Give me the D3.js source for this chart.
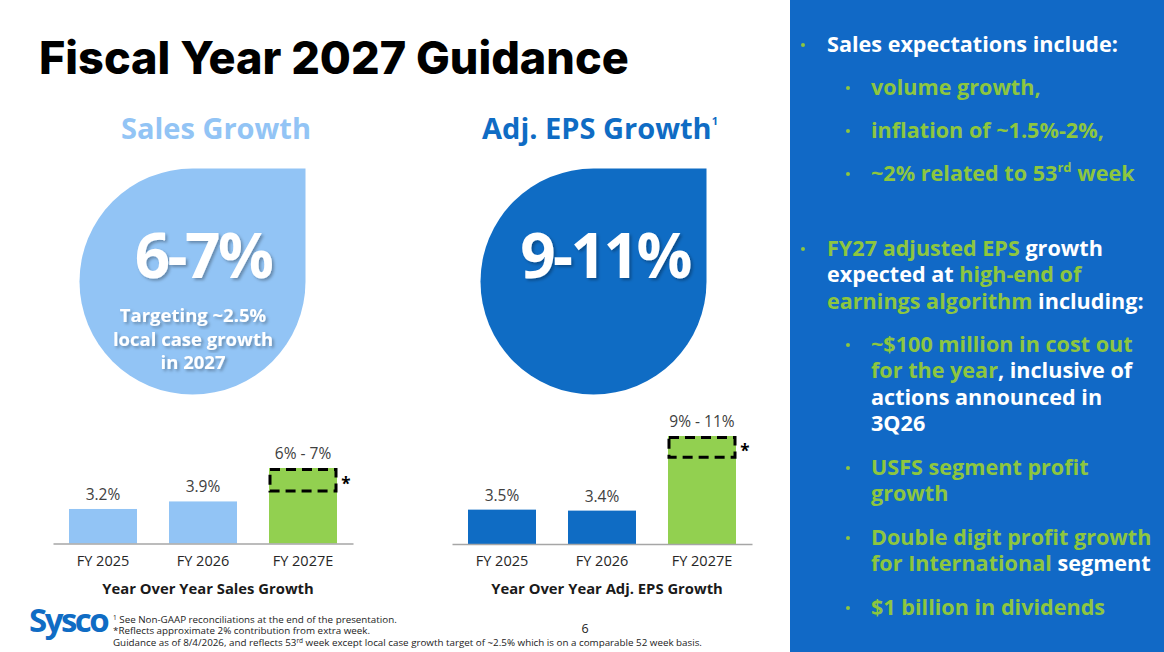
<!DOCTYPE html>
<html lang="en">
<head>
  <meta charset="UTF-8">
  <title>Fiscal Year 2027 Guidance</title>
  <script src="https://d3js.org/d3.v7.min.js"></script>
  <style>
    body { margin: 0; background: #fff; }
    svg text { font-family: "Open Sans", "Noto Sans", sans-serif; }
  </style>
</head>
<body>
  <script>
    const categories = ["FY 2025", "FY 2026", "FY 2027E"];
    const salesGrowth = [3.2, 3.9, 7];
    const salesLabels = ["3.2%", "3.9%", "6% - 7%"];
    const salesExtraWeek = [5, 7];
    const epsGrowth = [3.5, 3.4, 11];
    const epsLabels = ["3.5%", "3.4%", "9% - 11%"];
    const epsExtraWeek = [9, 11];

    const lightBlue = "#92C4F5";
    const darkBlue = "#0F6CC4";
    const barGreen = "#92D050";
    const textGreen = "#8DC63F";

    let svg = d3.select("body")
      .append("svg")
      .attr("width", 1164)
      .attr("height", 652);

    // soft shadow for the big numbers
    const defs = svg.append("defs");
    defs.append("filter")
      .attr("id", "shadow")
      .append("feDropShadow")
      .attr("dx", 2).attr("dy", 2).attr("stdDeviation", 1.5)
      .attr("flood-color", "#000").attr("flood-opacity", 0.3);

    // title
    svg.append("text")
      .attr("x", 39)
      .attr("y", 74)
      .attr("font-size", 45)
      .attr("font-weight", 800)
      .style("font-family", "Inter, sans-serif")
      .attr("letter-spacing", 0)
      .attr("fill", "#000")
      .text("Fiscal Year 2027 Guidance");

    // teardrop: circle with a square top-right corner
    const drop = (cx, cy, r) =>
      `M${cx},${cy - r} L${cx + r},${cy - r} L${cx + r},${cy} A${r},${r} 0 1 1 ${cx},${cy - r} Z`;

    const makePanel = (p) => {
      svg.append("text")
        .attr("x", p.headX).attr("y", 139)
        .attr("text-anchor", "middle")
        .attr("font-size", 29).attr("font-weight", 700)
        .attr("fill", p.headColor)
        .text(p.head)
        .append("tspan")
        .attr("font-size", 11).attr("dy", -14)
        .text(p.sup);

      svg.append("path")
        .attr("d", drop(p.cx, 281.5, 113))
        .attr("fill", p.dropColor);

      svg.append("text")
        .attr("x", p.bigX).attr("y", 278)
        .attr("text-anchor", "middle")
        .attr("font-size", 62).attr("font-weight", 700)
        .attr("letter-spacing", -2.5)
        .attr("fill", "#fff")
        .attr("filter", "url(#shadow)")
        .text(p.big);

      p.sub.forEach((s, i) => {
        svg.append("text")
          .attr("x", 193).attr("y", 322 + i * 23.5)
          .attr("text-anchor", "middle")
          .attr("font-size", 18.5).attr("font-weight", 700)
          .attr("fill", "#fff")
          .attr("filter", "url(#shadow)")
          .text(s);
      });
    };

    makePanel({ head: "Sales Growth", sup: "", headX: 216, headColor: lightBlue, cx: 192.5,
      dropColor: lightBlue, big: "6-7%", bigX: 203,
      sub: ["Targeting ~2.5%", "local case growth", "in 2027"] });
    makePanel({ head: "Adj. EPS Growth", sup: "1", headX: 600, headColor: darkBlue, cx: 593.5,
      dropColor: darkBlue, big: "9-11%", bigX: 605, sub: [] });

    // bar charts
    const makeChart = (c) => {
      const x = d3.scaleBand().domain(categories).range(c.xRange)
        .paddingInner(0.32).paddingOuter(0.16);
      const y = d3.scaleLinear().domain([0, c.yMax]).range([c.base, c.top]);
      const g = svg.append("g");

      g.selectAll("rect.bar")
        .data(c.values)
        .join("rect")
        .attr("class", "bar")
        .attr("x", (d, i) => x(categories[i]))
        .attr("y", d => y(d))
        .attr("width", x.bandwidth())
        .attr("height", d => y(0) - y(d))
        .attr("fill", (d, i) => i === 2 ? barGreen : c.color);

      // dashed box marking the extra week
      const last = categories[2];
      g.append("rect")
        .attr("x", x(last) + 1)
        .attr("y", y(c.extra[1]) + 1.5)
        .attr("width", x.bandwidth() - 2)
        .attr("height", y(c.extra[0]) - y(c.extra[1]))
        .attr("fill", "none")
        .attr("stroke", "#000")
        .attr("stroke-width", 3)
        .attr("stroke-dasharray", "10,6");

      g.append("text")
        .attr("x", x(last) + x.bandwidth() + 9)
        .attr("y", (y(c.extra[0]) + y(c.extra[1])) / 2 + 11)
        .attr("text-anchor", "middle")
        .attr("font-size", 17).attr("font-weight", 700)
        .text("*");

      g.selectAll("text.val")
        .data(c.values)
        .join("text")
        .attr("class", "val")
        .attr("x", (d, i) => x(categories[i]) + x.bandwidth() / 2)
        .attr("y", d => y(d) - 9)
        .attr("text-anchor", "middle")
        .attr("font-size", 15.5)
        .attr("fill", "#404040")
        .text((d, i) => c.labels[i]);

      const axis = g.append("g")
        .attr("transform", `translate(0,${c.base})`)
        .call(d3.axisBottom(x).tickSize(0).tickSizeOuter(0).tickPadding(12));
      axis.select(".domain").attr("stroke", "#A6A6A6").attr("stroke-width", 1.5);
      axis.selectAll(".tick text")
        .attr("font-size", 14.5)
        .attr("fill", "#262626")
        .style("font-family", "\"Open Sans\", sans-serif");

      g.append("text")
        .attr("x", (c.xRange[0] + c.xRange[1]) / 2 + 5)
        .attr("y", 594)
        .attr("text-anchor", "middle")
        .attr("font-size", 14.8).attr("font-weight", 700)
        .attr("fill", "#1a1a1a")
        .text(c.title);
    };

    makeChart({ xRange: [53, 353], base: 543.5, yMax: 7, top: 468, values: salesGrowth,
      labels: salesLabels, extra: salesExtraWeek, color: lightBlue,
      title: "Year Over Year Sales Growth" });
    makeChart({ xRange: [452, 752], base: 544, yMax: 11, top: 436, values: epsGrowth,
      labels: epsLabels, extra: epsExtraWeek, color: darkBlue,
      title: "Year Over Year Adj. EPS Growth" });

    // right panel
    svg.append("rect")
      .attr("x", 790).attr("y", 0)
      .attr("width", 374).attr("height", 652)
      .attr("fill", "#1169C6");

    const W = "#fff", G = textGreen;
    const bullets = [
      { lvl: 0, y: 52, lines: [[["Sales expectations include:", W]]] },
      { lvl: 1, y: 95, lines: [[["volume growth,", G]]] },
      { lvl: 1, y: 138, lines: [[["inflation of ~1.5%-2%,", G]]] },
      { lvl: 1, y: 181, lines: [[["~2% related to 53", G], ["rd", G, true], [" week", G]]] },
      { lvl: 0, y: 256, lines: [
        [["FY27 adjusted EPS ", G], ["growth", W]],
        [["expected at ", W], ["high-end of", G]],
        [["earnings algorithm ", G], ["including:", W]]] },
      { lvl: 1, y: 352, lines: [
        [["~$100 million in cost out", G]],
        [["for the year", G], [", inclusive of", W]],
        [["actions announced in", W]],
        [["3Q26", W]]] },
      { lvl: 1, y: 475, lines: [[["USFS segment profit", G]], [["growth", G]]] },
      { lvl: 1, y: 545, lines: [[["Double digit profit growth", G]], [["for International ", G], ["segment", W]]] },
      { lvl: 1, y: 615, lines: [[["$1 billion in dividends", G]]] }
    ];

    bullets.forEach(b => {
      const bx = b.lvl === 0 ? 803 : 848;
      const tx = b.lvl === 0 ? 827 : 871;
      svg.append("circle")
        .attr("cx", bx).attr("cy", b.y - 7).attr("r", 2)
        .attr("fill", textGreen);
      b.lines.forEach((line, li) => {
        const t = svg.append("text")
          .attr("x", tx).attr("y", b.y + li * 26.3)
          .attr("font-size", 21.6).attr("font-weight", 700);
        line.forEach((seg, si) => {
          const sp = t.append("tspan").attr("fill", seg[1]).text(seg[0]);
          if (seg[2]) sp.attr("font-size", 13).attr("dy", -9);
          else if (si > 0 && line[si - 1][2]) sp.attr("dy", 9);
        });
      });
    });

    // footer
    svg.append("text")
      .attr("x", 29).attr("y", 632)
      .attr("font-size", 33).attr("font-weight", 700)
      .attr("letter-spacing", -2.5)
      .attr("fill", darkBlue)
      .text("Sysco");

    const notes = [
      "See Non-GAAP reconciliations at the end of the presentation.",
      "*Reflects approximate 2% contribution from extra week.",
      "Guidance as of 8/4/2026, and reflects 53"
    ];
    const fs = 9.8;
    const f1 = svg.append("text").attr("x", 113).attr("y", 623).attr("font-size", fs).attr("fill", "#222");
    f1.append("tspan").attr("font-size", 6.5).attr("dy", -3).text("1");
    f1.append("tspan").attr("dy", 3).text(" " + notes[0]);
    svg.append("text").attr("x", 113).attr("y", 634).attr("font-size", fs).attr("fill", "#222").text(notes[1]);
    const f3 = svg.append("text").attr("x", 113).attr("y", 646).attr("font-size", fs).attr("fill", "#222");
    f3.append("tspan").text(notes[2]);
    f3.append("tspan").attr("font-size", 6.5).attr("dy", -3).text("rd");
    f3.append("tspan").attr("dy", 3).text(" week except local case growth target of ~2.5% which is on a comparable 52 week basis.");

    svg.append("text")
      .attr("x", 585).attr("y", 633)
      .attr("text-anchor", "middle")
      .attr("font-size", 12.5).attr("fill", "#222")
      .text("6");
  </script>
</body>
</html>
